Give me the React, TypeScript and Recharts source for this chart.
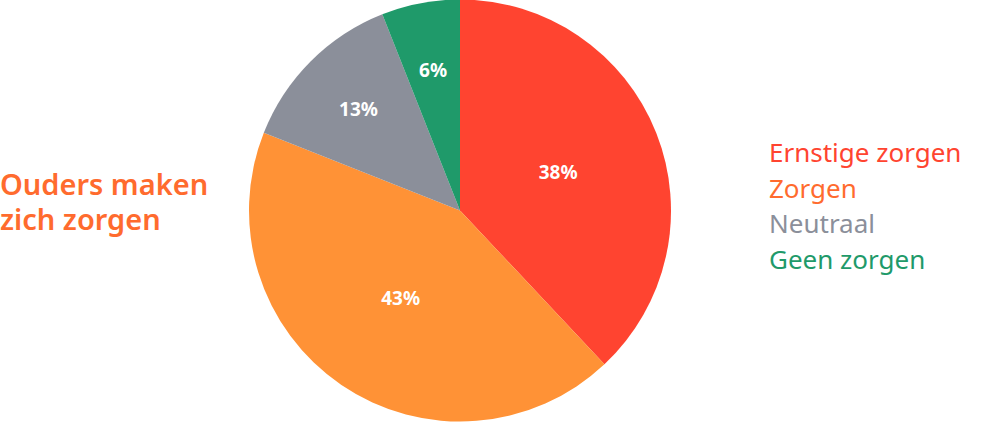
import { PieChart, Pie, Cell } from "recharts";

const categories = ["Ernstige zorgen", "Zorgen", "Neutraal", "Geen zorgen"];
const shares = [38, 43, 13, 6];
const sliceColors = ["#ff4430", "#ff9236", "#8b8f9a", "#1f9a6a"];
const legendColors = ["#ff4430", "#ff6b2e", "#8b8f9a", "#1f9a6a"];

const data = categories.map((name, i) => ({ name, value: shares[i] }));

const FONT = "'Noto Sans', sans-serif";
const RADIAN = Math.PI / 180;

function renderLabel(props: any) {
  const { cx, cy, midAngle, outerRadius, percent } = props;
  // small slices get their label pushed further out
  const r = outerRadius * (percent > 0.3 ? 0.5 : 0.68);
  const x = cx + r * Math.cos(-midAngle * RADIAN);
  const y = cy + r * Math.sin(-midAngle * RADIAN);
  return (
    <text
      x={x}
      y={y}
      fill="#fff"
      textAnchor="middle"
      dominantBaseline="central"
      fontFamily={FONT}
      fontWeight={700}
      fontSize={19}
    >
      {`${Math.round(percent * 100)}%`}
    </text>
  );
}

export default function App() {
  return (
    <div style={{ position: "absolute", left: 0, top: 0, width: 1003, height: 422, background: "#fff" }}>
      <PieChart width={1003} height={422} margin={{ top: 0, right: 0, bottom: 0, left: 0 }}>
        <Pie
          data={data}
          dataKey="value"
          nameKey="name"
          cx={460}
          cy={210.5}
          outerRadius={211}
          startAngle={90}
          endAngle={-270}
          stroke="none"
          label={renderLabel}
          labelLine={false}
          isAnimationActive={false}
        >
          {data.map((d, i) => (
            <Cell key={d.name} fill={sliceColors[i]} />
          ))}
        </Pie>
      </PieChart>
      {/* title */}
      <div
        style={{
          position: "absolute",
          left: 0,
          top: 166,
          fontFamily: FONT,
          fontWeight: 600,
          fontSize: 29,
          lineHeight: "35px",
          color: "#ff6b2e",
        }}
      >
        Ouders maken
        <br />
        zich zorgen
      </div>
      {/* legend */}
      <div
        style={{
          position: "absolute",
          left: 769,
          top: 135,
          fontFamily: FONT,
          fontSize: 26,
          lineHeight: "35.5px",
        }}
      >
        {categories.map((c, i) => (
          <div key={c} style={{ color: legendColors[i] }}>
            {c}
          </div>
        ))}
      </div>
    </div>
  );
}
